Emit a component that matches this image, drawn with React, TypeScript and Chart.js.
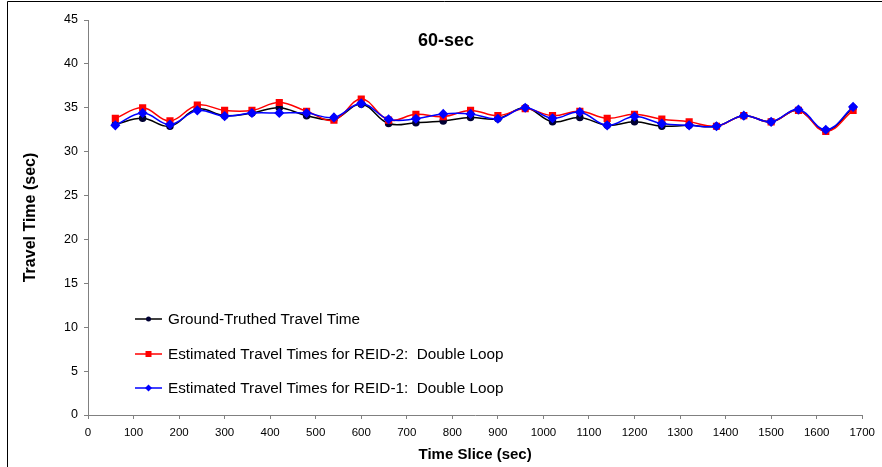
import React, { useEffect, useRef } from "react";
import { Chart, registerables } from "chart.js";

Chart.register(...registerables);

const timeSlices = [60, 120, 180, 240, 300, 360, 420, 480, 540, 600, 660, 720, 780, 840, 900, 960, 1020, 1080, 1140, 1200, 1260, 1320, 1380, 1440, 1500, 1560, 1620, 1680];

const groundTruth = [33.1, 33.8, 32.9, 34.85, 34.1, 34.4, 35.0, 34.1, 33.7, 35.4, 33.2, 33.3, 33.5, 33.9, 33.75, 35.0, 33.4, 33.9, 33.0, 33.4, 32.9, 33.0, 32.9, 34.1, 33.4, 34.7, 32.4, 35.0];
const reid2 = [33.8, 35.0, 33.5, 35.3, 34.7, 34.7, 35.6, 34.6, 33.6, 36.0, 33.6, 34.25, 34.0, 34.7, 34.1, 34.9, 34.1, 34.6, 33.8, 34.25, 33.7, 33.4, 32.9, 34.1, 33.4, 34.7, 32.3, 34.7];
const reid1 = [33.0, 34.4, 33.1, 34.7, 34.05, 34.4, 34.4, 34.4, 33.9, 35.5, 33.7, 33.75, 34.3, 34.3, 33.75, 35.0, 33.8, 34.5, 33.0, 34.0, 33.2, 33.0, 32.9, 34.1, 33.4, 34.8, 32.5, 35.1];

const seriesLabels = [
  "Ground-Truthed Travel Time",
  "Estimated Travel Times for REID-2:  Double Loop",
  "Estimated Travel Times for REID-1:  Double Loop",
];
const chartTitle = "60-sec";
const xTitle = "Time Slice (sec)";
const yTitle = "Travel Time (sec)";

const toPoints = (vals: number[]) => timeSlices.map((x, i) => ({ x, y: vals[i] }));

const decorPlugin = {
  id: "decor",
  afterDraw(chart: any) {
    const ctx = chart.ctx as CanvasRenderingContext2D;
    ctx.save();
    // outer frame
    ctx.strokeStyle = "#000";
    ctx.lineWidth = 1;
    ctx.beginPath();
    ctx.moveTo(7.5, 467);
    ctx.lineTo(7.5, 1.5);
    ctx.lineTo(882, 1.5);
    ctx.stroke();
    // title
    ctx.fillStyle = "#000";
    ctx.font = "bold 18px Arial, 'Liberation Sans', sans-serif";
    ctx.textAlign = "center";
    ctx.textBaseline = "middle";
    ctx.fillText(chartTitle, 446, 41);
    // legend
    const ys = [319, 354, 388];
    ctx.font = "15.3px Arial, 'Liberation Sans', sans-serif";
    ctx.textAlign = "left";
    chart.data.datasets.forEach((ds: any, i: number) => {
      const y = ys[i];
      ctx.strokeStyle = ds.borderColor;
      ctx.lineWidth = 1.5;
      ctx.beginPath();
      ctx.moveTo(135, y);
      ctx.lineTo(162, y);
      ctx.stroke();
      ctx.fillStyle = ds.pointBackgroundColor;
      ctx.strokeStyle = ds.pointBorderColor;
      ctx.lineWidth = 1;
      const style = ds.pointStyle;
      const cx = 148.5;
      ctx.beginPath();
      if (style === "circle") {
        ctx.arc(cx, y, 2.5, 0, Math.PI * 2);
      } else if (style === "rect") {
        ctx.rect(cx - 3, y - 3, 6, 6);
      } else {
        ctx.moveTo(cx, y - 3.5);
        ctx.lineTo(cx + 3.5, y);
        ctx.lineTo(cx, y + 3.5);
        ctx.lineTo(cx - 3.5, y);
        ctx.closePath();
      }
      ctx.fill();
      ctx.fillStyle = "#000";
      ctx.fillText(ds.label, 168, y + 1);
    });
    ctx.restore();
  },
};

export default function App() {
  const ref = useRef<HTMLCanvasElement | null>(null);
  useEffect(() => {
    if (!ref.current) return;
    const chart = new Chart(ref.current, {
      type: "line",
      data: {
        datasets: [
          {
            label: seriesLabels[0],
            data: toPoints(groundTruth),
            borderColor: "#000000",
            backgroundColor: "#000033",
            pointBackgroundColor: "#000033",
            pointBorderColor: "#000033",
            pointStyle: "circle",
            pointRadius: 3,
            borderWidth: 1.5,
            tension: 0.4,
            order: 3,
          },
          {
            label: seriesLabels[1],
            data: toPoints(reid2),
            borderColor: "#FF0000",
            backgroundColor: "#FF0000",
            pointBackgroundColor: "#FF0000",
            pointBorderColor: "#FF0000",
            pointStyle: "rect",
            pointRadius: 4,
            borderWidth: 1.5,
            tension: 0.4,
            order: 2,
          },
          {
            label: seriesLabels[2],
            data: toPoints(reid1),
            borderColor: "#0000FF",
            backgroundColor: "#0000FF",
            pointBackgroundColor: "#0000FF",
            pointBorderColor: "#0000FF",
            pointStyle: "rectRot",
            pointRadius: 4,
            borderWidth: 1.5,
            tension: 0.4,
            order: 1,
          },
        ],
      },
      options: {
        animation: false,
        responsive: false,
        maintainAspectRatio: false,
        layout: { padding: { left: 0, top: 20, right: 19, bottom: 0 } },
        plugins: { legend: { display: false }, tooltip: { enabled: false }, title: { display: false } },
        scales: {
          x: {
            type: "linear",
            min: 0,
            max: 1700,
            ticks: { stepSize: 100, color: "#000", padding: 7, maxRotation: 0, callback: (v: any) => String(v), font: { family: "Arial, 'Liberation Sans', sans-serif", size: 11.5 } },
            grid: { drawOnChartArea: false, drawTicks: true, tickLength: 4, color: "#808080" },
            border: { color: "#808080", width: 1 },
            title: { display: true, text: xTitle, color: "#000", font: { family: "Arial, 'Liberation Sans', sans-serif", size: 15, weight: "bold" }, padding: { top: 0, bottom: 3.5 } },
            afterFit: (s: any) => { s.height = 52; },
          },
          y: {
            min: 0,
            max: 45,
            ticks: { stepSize: 5, color: "#000", padding: 6, font: { family: "Arial, 'Liberation Sans', sans-serif", size: 12.5 } },
            grid: { drawOnChartArea: false, drawTicks: true, tickLength: 4, color: "#808080" },
            border: { color: "#808080", width: 1 },
            title: { display: true, text: yTitle, color: "#000", font: { family: "Arial, 'Liberation Sans', sans-serif", size: 16, weight: "bold" }, padding: { top: 21, bottom: 0 } },
            afterFit: (s: any) => { s.width = 88; },
          },
        },
      },
      plugins: [decorPlugin],
    } as any);
    return () => chart.destroy();
  }, []);
  return (
    <div style={{ position: "absolute", left: 0, top: 0, width: 882, height: 467, background: "#fff" }}>
      <canvas ref={ref} width={882} height={467} style={{ width: 882, height: 467 }} />
    </div>
  );
}
